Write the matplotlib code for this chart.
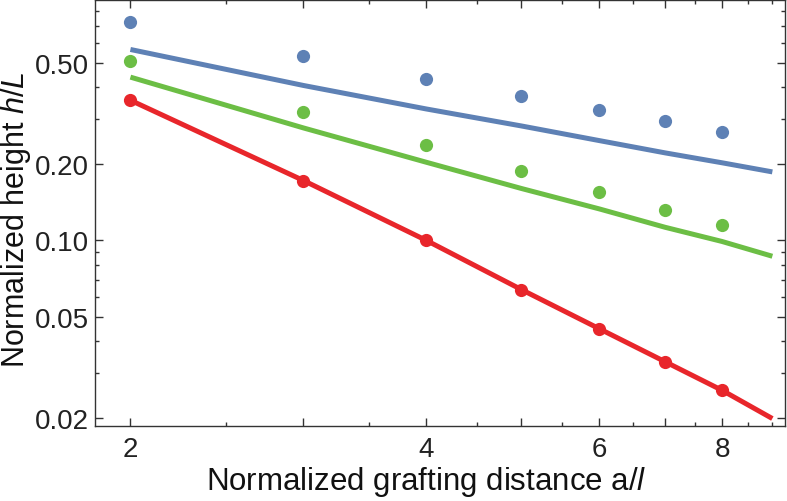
import matplotlib
matplotlib.use("Agg")
import matplotlib.pyplot as plt
from matplotlib.ticker import FixedLocator, NullFormatter

plt.rcParams['font.family'] = ['Liberation Sans', 'DejaVu Sans']
plt.rcParams['mathtext.fontset'] = 'custom'
plt.rcParams['mathtext.rm'] = 'Liberation Sans'
plt.rcParams['mathtext.it'] = 'Liberation Sans:italic'

# measured points
a_pts = [2, 3, 4, 5, 6, 7, 8]
blue_pts = [0.725, 0.534, 0.433, 0.371, 0.327, 0.294, 0.268]
green_pts = [0.506, 0.321, 0.237, 0.187, 0.155, 0.132, 0.115]
red_pts = [0.356, 0.172, 0.100, 0.064, 0.0449, 0.0333, 0.0257]

# model curves
a_fit = [2, 3, 4, 5, 6, 7, 8, 9]
blue_fit = [0.564, 0.407, 0.329, 0.282, 0.247, 0.221, 0.202, 0.186]
green_fit = [0.439, 0.277, 0.203, 0.160, 0.133, 0.1126, 0.099, 0.0866]
red_fit = [0.356, 0.172, 0.100, 0.064, 0.0449, 0.0333, 0.0257, 0.0199]

blue = '#5E81B5'
green = '#6CBE45'
red = '#E8262B'

xmajor = [2, 3, 4, 5, 6, 7, 8]
xlabels = ['2', '', '4', '', '6', '', '8']
xminor = [2.5, 3.5, 4.5, 5.5, 6.5, 7.5, 8.5, 9.0]
ymajor = [0.02, 0.05, 0.10, 0.20, 0.50]
ylabels = ['0.02', '0.05', '0.10', '0.20', '0.50']
yminor = [0.03, 0.04, 0.06, 0.07, 0.08, 0.09, 0.3, 0.4, 0.6, 0.7, 0.8]

fig = plt.figure(figsize=(7.87, 5.02), dpi=100)
ax = fig.add_axes([0.1205, 0.1494, 0.8775, 0.8496])
ax.set_xscale('log')
ax.set_yscale('log')

for yf, yp, c in [(blue_fit, blue_pts, blue), (green_fit, green_pts, green), (red_fit, red_pts, red)]:
    ax.plot(a_fit, yf, color=c, lw=3.6, solid_capstyle='butt', zorder=2)
    ax.plot(a_pts, yp, 'o', color=c, ms=9.5, mec='none', zorder=3)

ax.set_xlim(1.84, 9.28)
ax.set_ylim(0.0186, 0.887)

ax.xaxis.set_major_locator(FixedLocator(xmajor))
ax.xaxis.set_minor_locator(FixedLocator(xminor))
ax.set_xticklabels(xlabels)
ax.xaxis.set_minor_formatter(NullFormatter())
ax.yaxis.set_major_locator(FixedLocator(ymajor))
ax.yaxis.set_minor_locator(FixedLocator(yminor))
ax.set_yticklabels(ylabels)
ax.yaxis.set_minor_formatter(NullFormatter())

ax.tick_params(which='both', direction='in', top=True, right=True, colors='#333333', labelcolor='#222222',
               labelsize=20, width=1.0)
ax.tick_params(which='major', length=5.5)
ax.tick_params(which='minor', length=3)
ax.tick_params(axis='x', which='major', pad=7)
ax.tick_params(axis='y', which='major', pad=4)
for s in ax.spines.values():
    s.set_color('#333333')
    s.set_linewidth(1.0)

ax.set_xlabel('Normalized grafting distance a/$\\mathit{l}$', fontsize=22.5, color='#111111')
ax.set_ylabel('Normalized height $h$/$L$', fontsize=22, color='#111111')
ax.xaxis.set_label_coords(0.48, -0.088)
ax.yaxis.set_label_coords(-0.089, 0.485)

fig.savefig('out.png', dpi=100)
